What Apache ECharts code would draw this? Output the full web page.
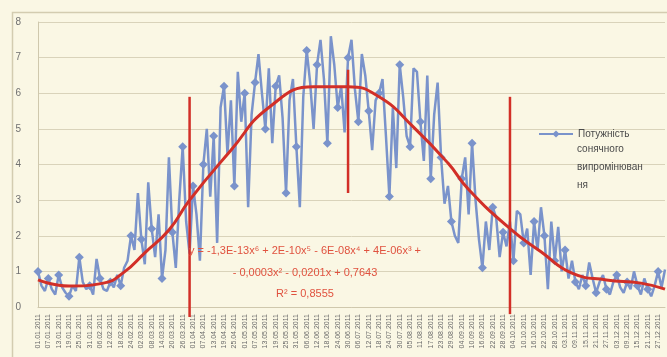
<!DOCTYPE html>
<html>
<head>
<meta charset="utf-8">
<script src="https://cdn.jsdelivr.net/npm/echarts@6/dist/echarts.min.js"></script>
<style>
  html, body { margin: 0; padding: 0; background: #faf7e4; }
  #chart { width: 667px; height: 357px; }
</style>
</head>
<body>
<div id="chart"></div>
<script>
// daily readings sampled every 2 days, 1 Jan .. 31 Dec
const startDate = new Date(2011, 0, 1);
const stepDays = 2;

const power = [
  1.0, 0.6, 0.45, 0.8, 0.5, 0.35, 0.9, 0.55, 0.4, 0.3,
  0.6, 0.45, 1.4, 0.7, 0.5, 0.6, 0.35, 1.35, 0.8, 0.5,
  0.45, 0.7, 0.55, 0.9, 0.6, 1.1, 1.3, 2.0, 1.6, 3.2,
  1.9, 1.2, 3.5, 2.2, 1.4, 2.6, 0.8, 1.6, 4.2, 2.1,
  1.1, 3.0, 4.5, 2.4, 1.5, 3.4, 2.6, 1.3, 4.0, 5.0,
  3.1, 4.8, 1.8, 5.6, 6.2, 4.3, 5.8, 3.4, 6.6, 5.2,
  6.0, 2.8, 5.4, 6.3, 7.1, 6.0, 5.0, 6.7, 4.6, 6.2,
  6.5, 5.3, 3.2, 5.8, 6.4, 4.5, 2.8, 5.9, 7.2, 6.3,
  5.0, 6.8, 7.5, 6.4, 4.6, 7.6, 6.8, 5.6, 6.2, 4.9,
  7.0, 7.5, 6.1, 5.2, 7.1, 6.5, 5.5, 4.4, 5.8, 6.0,
  6.4, 4.8, 3.1, 5.6, 3.9, 6.8, 5.9, 4.8, 4.5, 6.7,
  6.6, 5.2, 4.1, 6.5, 3.6, 5.4, 6.3, 4.2, 2.9, 3.4,
  2.4, 2.0, 1.8, 3.6, 4.2, 2.6, 4.6, 3.0, 1.9, 1.1,
  2.4, 1.6, 2.8, 2.5, 1.4, 2.1, 1.7, 2.4, 1.3, 2.7,
  2.6, 1.8, 2.2, 0.9, 2.4, 1.6, 2.8, 2.0, 0.5, 2.4,
  1.3, 2.25, 1.0, 1.6, 0.8, 1.3, 0.7, 0.5, 0.9, 0.6,
  1.25, 0.8, 0.4, 0.7, 0.9, 0.5, 0.35, 0.7, 0.9, 0.55,
  0.4, 0.7, 0.5, 1.0, 0.6, 0.35, 0.8, 0.5, 0.3, 0.6,
  1.0, 0.55, 1.05
];

// polynomial trendline: [sample index, value]
const trend = [
  [0, 0.76], [9, 0.59], [19, 0.67], [25, 0.98], [31, 1.52], [38, 2.16],
  [44, 3.0], [56, 4.4], [67, 5.6], [80, 6.18], [90, 6.18], [99, 5.9],
  [109, 5.05], [119, 4.04], [125, 3.3], [137, 2.2], [146, 1.55],
  [155, 0.95], [165, 0.76], [175, 0.67], [182, 0.5]
];

// red vertical markers: sample index, top value, bottom value
const markers = [
  [44, 5.9, -0.28],
  [90, 6.66, 3.2],
  [137, 5.9, -0.2]
];

const yTicks = [0, 8, 1];
const legendLines = ['Потужність', 'сонячного', 'випромінюван', 'ня'];
const equationLines = [
  'y = -1,3E-13x⁶ + 2E-10x⁵ - 6E-08x⁴ + 4E-06x³ +',
  '- 0,0003x² - 0,0201x + 0,7643',
  'R² = 0,8555'
];

const pad = n => String(n).padStart(2, '0');
const categories = power.map((_, i) => {
  const d = new Date(startDate.getTime() + i * stepDays * 86400000);
  return pad(d.getDate()) + '.' + pad(d.getMonth() + 1) + '.' + d.getFullYear();
});

const blue = '#7a93cb';
const red = '#d22f27';
const font = 'Liberation Sans, Arial, sans-serif';

const chart = echarts.init(document.getElementById('chart'), null, { renderer: 'canvas' });

chart.setOption({
  backgroundColor: '#faf7e4',
  animation: false,
  textStyle: { fontFamily: font },
  grid: { left: 38, right: 2, top: 22, bottom: 50, containLabel: false },
  legend: {
    show: true,
    data: ['power'],
    left: 533,
    top: 124,
    itemWidth: 34,
    itemHeight: 9,
    formatter: () => legendLines[0],
    textStyle: { color: '#4a4a4a', fontSize: 10 }
  },
  xAxis: {
    type: 'category',
    data: categories,
    boundaryGap: false,
    axisLine: { lineStyle: { color: '#cfc8ad', width: 1 } },
    axisTick: { show: false },
    axisLabel: {
      interval: 2,
      rotate: 90,
      fontSize: 7,
      color: '#6a6a6a',
      margin: 7
    },
    splitLine: { show: false }
  },
  yAxis: {
    type: 'value',
    min: yTicks[0],
    max: yTicks[1],
    interval: yTicks[2],
    axisLine: { show: true, lineStyle: { color: '#cfc8ad' } },
    axisTick: { show: false },
    axisLabel: { color: '#707070', fontSize: 10, margin: 17 },
    splitLine: { lineStyle: { color: '#d9d3ba', width: 1 } }
  },
  graphic: [
    {
      type: 'rect',
      left: 10, top: 10,
      shape: { width: 680, height: 380 },
      style: { fill: 'none', stroke: '#d3ccb0', lineWidth: 1.5 },
      silent: true
    },
    ...legendLines.slice(1).map((t, i) => ({
      type: 'text',
      x: 577, y: 149 + i * 18,
      silent: true,
      z: 10,
      style: {
        text: t,
        fill: '#4a4a4a',
        font: '10px ' + font,
        verticalAlign: 'middle'
      }
    })),
    ...equationLines.map((t, i) => ({
      type: 'text',
      x: 305, y: [251, 273, 294][i],
      silent: true,
      z: 10,
      style: {
        text: t,
        fill: '#e0523f',
        font: '11px ' + font,
        align: 'center',
        verticalAlign: 'middle'
      }
    }))
  ],
  series: [
    {
      name: 'power',
      type: 'line',
      data: power,
      symbol: 'diamond',
      symbolSize: 9,
      lineStyle: { color: blue, width: 2.5 },
      itemStyle: { color: blue },
      z: 2
    },
    {
      name: 'trend',
      type: 'line',
      data: trend,
      smooth: 0.5,
      showSymbol: false,
      symbol: 'none',
      lineStyle: { color: red, width: 3 },
      z: 3
    },
    ...markers.map((m, i) => ({
      name: 'marker' + i,
      type: 'line',
      data: [[m[0], m[1]], [m[0], m[2]]],
      symbol: 'none',
      clip: false,
      lineStyle: { color: red, width: 2.5 },
      z: 4
    }))
  ]
});
</script>
</body>
</html>
